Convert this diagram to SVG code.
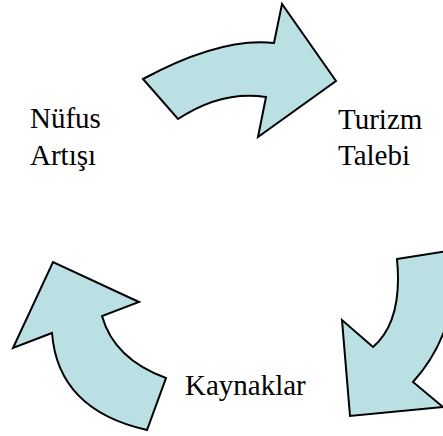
<svg xmlns="http://www.w3.org/2000/svg" width="443" height="436" viewBox="0 0 443 436">
<style>
.arrow{fill:#BBE0E3;stroke:#000;stroke-width:2;stroke-linejoin:miter}
text{font-family:'Liberation Serif','Times New Roman',Times,serif;font-size:29px;fill:#000}
</style>
<rect width="443" height="436" fill="#fff"/>
<g id="connectors">
<path id="arrow-top" class="arrow" d="M143,79 Q221,37 274,43 L282,4 L336,81 L258,137 L266,97 Q222,90 178,119 Z"/>
<path id="arrow-right" class="arrow" d="M397,259 L455,250 Q460,330 413,382 L443,407 L350,416 L342,320 L373,347 Q403,321 397,259 Z"/>
<path id="arrow-left" class="arrow" d="M147,430 Q58,410 52,333 L13,348 L53,262 L139,302 L102,316 Q114,359 166,378 Z"/>
</g>
<g id="node-nufus"><text x="30" y="128" font-family="Liberation Serif, serif">Nüfus</text><text x="30" y="165" font-family="Liberation Serif, serif">Artışı</text></g>
<g id="node-turizm"><text x="338" y="129" font-family="Liberation Serif, serif">Turizm</text><text x="338" y="165" font-family="Liberation Serif, serif">Talebi</text></g>
<g id="node-kaynaklar"><text x="185" y="395" font-family="Liberation Serif, serif">Kaynaklar</text></g>
</svg>
